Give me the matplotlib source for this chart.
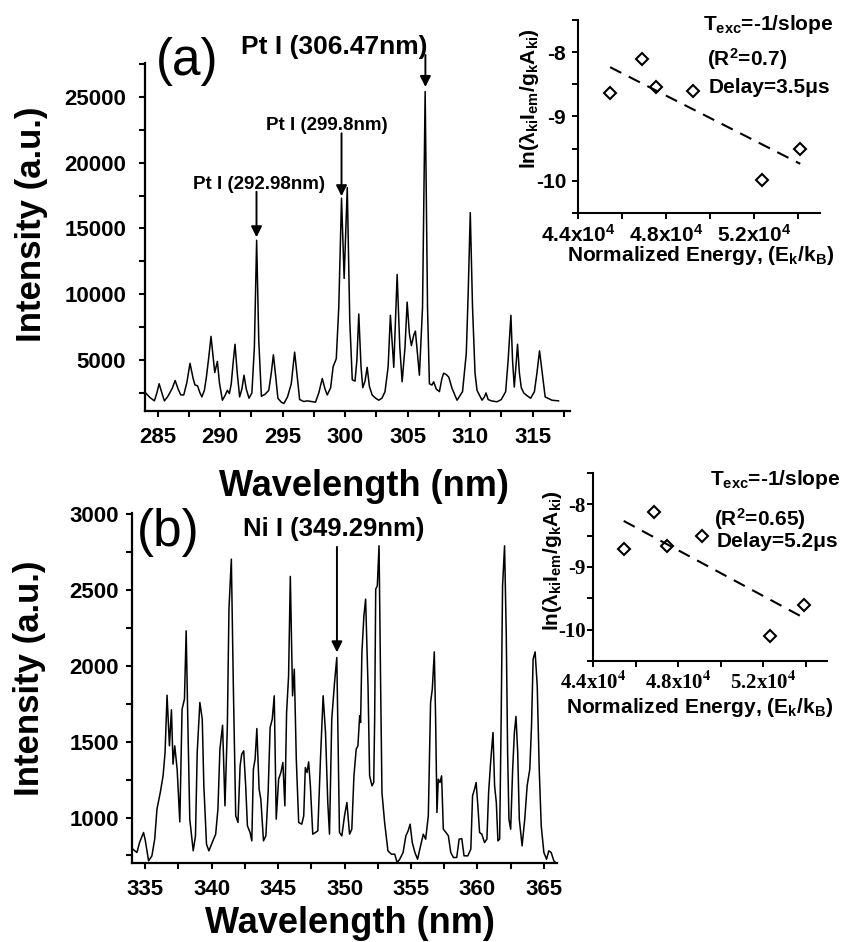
import matplotlib
matplotlib.use("Agg")
import matplotlib.pyplot as plt
import numpy as np
from matplotlib.ticker import MultipleLocator

plt.rcParams["font.family"] = ["Liberation Sans", "DejaVu Sans"]
plt.rcParams["font.weight"] = "bold"
plt.rcParams["axes.labelweight"] = "bold"
plt.rcParams["axes.unicode_minus"] = False
plt.rcParams["mathtext.fontset"] = "custom"
plt.rcParams["mathtext.rm"] = "Liberation Sans:bold"
plt.rcParams["mathtext.it"] = "Liberation Sans:bold"
plt.rcParams["mathtext.bf"] = "Liberation Sans:bold"

# spectrum (a), Pt lines
wl_a = [284.05, 284.4, 284.75, 284.95, 285.13, 285.35, 285.55, 285.8, 285.95, 286.2,
        286.41, 286.65, 286.86, 287.1, 287.35, 287.6, 287.85, 288.0, 288.2, 288.4,
        288.55, 288.75, 288.91, 289.1, 289.28, 289.45, 289.58, 289.79, 289.95, 290.19,
        290.4, 290.59, 290.75, 290.9, 291.05, 291.2, 291.38, 291.57, 291.75, 291.92,
        292.1, 292.32, 292.55, 292.75, 292.93, 293.1, 293.31, 293.6, 293.9, 294.1,
        294.27, 294.45, 294.63, 294.9, 295.11, 295.4, 295.7, 295.97, 296.2, 296.37,
        296.7, 296.98, 297.3, 297.64, 297.9, 298.18, 298.4, 298.58, 298.85, 299.05,
        299.3, 299.5, 299.72, 299.93, 300.18, 300.38, 300.58, 300.8, 300.95, 301.1,
        301.28, 301.42, 301.6, 301.77, 301.95, 302.17, 302.45, 302.7, 302.95, 303.2,
        303.45, 303.63, 303.9, 304.17, 304.38, 304.57, 304.8, 304.97, 305.15, 305.31,
        305.5, 305.63, 305.8, 305.95, 306.2, 306.41, 306.6, 306.75, 306.95, 307.09,
        307.3, 307.55, 307.75, 307.89, 308.1, 308.3, 308.56, 308.96, 309.4, 309.7,
        309.85, 310.02, 310.2, 310.4, 310.56, 310.96, 311.15, 311.28, 311.45, 311.7,
        312.16, 312.5, 312.85, 313.05, 313.27, 313.4, 313.54, 313.67, 313.8, 313.95,
        314.1, 314.3, 314.55, 314.85, 315.15, 315.35, 315.56, 315.75, 316.01, 316.55,
        317.08]
int_a = [2500, 2150, 1900, 2500, 3200, 2500, 1900, 2200, 2450, 2900,
         3450, 2800, 2350, 2350, 3300, 4750, 3600, 3100, 3050, 2500,
         2200, 2700, 3700, 5200, 6800, 5200, 4050, 4900, 3300, 1950,
         2300, 2700, 2450, 3200, 4800, 6200, 4000, 2200, 2800, 3850,
         2800, 2100, 2500, 6000, 14100, 6500, 2250, 2400, 2700, 4000,
         5400, 3800, 2100, 1800, 1700, 2200, 3200, 5600, 3500, 2000,
         1850, 1900, 1850, 1800, 2500, 3600, 2800, 2350, 2900, 4500,
         5100, 9000, 17300, 11200, 18100, 8000, 3500, 3400, 5000, 8500,
         4500, 2900, 3400, 4450, 3000, 2350, 2100, 1950, 2100, 2600,
         4500, 8400, 4450, 11500, 6000, 3350, 6000, 9400, 7000, 6100,
         6900, 7200, 5400, 3850, 9000, 25400, 9000, 3200, 3100, 3350,
         2800, 2600, 3600, 4000, 3900, 3700, 2850, 1950, 2600, 5500,
         10000, 16200, 9000, 4000, 2700, 1950, 2200, 2500, 2000, 1900,
         1830, 2000, 2600, 5000, 8400, 5000, 2950, 4500, 6200, 4000,
         2900, 2500, 2300, 2100, 2600, 4000, 5700, 4200, 2200, 1950,
         1900]

# spectrum (b), Ni lines
wl_b = [334.07, 334.37, 334.57, 334.87, 335.0, 335.25, 335.5, 335.71, 335.88, 336.13,
        336.34, 336.49, 336.64, 336.82, 336.97, 337.09, 337.22, 337.4, 337.6, 337.77,
        337.95, 338.08, 338.2, 338.35, 338.61, 338.78, 338.91, 339.11, 339.29, 339.41,
        339.61, 339.79, 340.04, 340.3, 340.47, 340.62, 340.82, 341.0, 341.18, 341.3,
        341.48, 341.63, 341.81, 341.98, 342.14, 342.26, 342.41, 342.56, 342.69, 342.89,
        343.02, 343.14, 343.27, 343.4, 343.57, 343.7, 343.9, 344.08, 344.25, 344.4,
        344.56, 344.71, 344.86, 345.04, 345.21, 345.36, 345.51, 345.64, 345.79, 345.92,
        346.09, 346.22, 346.37, 346.55, 346.78, 346.93, 347.05, 347.18, 347.3, 347.43,
        347.61, 347.81, 347.99, 348.19, 348.39, 348.57, 348.74, 348.87, 349.04, 349.25,
        349.42, 349.62, 349.8, 350.0, 350.18, 350.38, 350.55, 350.71, 350.88, 351.01,
        351.14, 351.21, 351.31, 351.46, 351.59, 351.77, 351.89, 352.07, 352.2, 352.27,
        352.35, 352.47, 352.6, 352.72, 352.82, 353.02, 353.27, 353.53, 353.78, 353.96,
        354.16, 354.41, 354.62, 354.79, 354.94, 355.1, 355.3, 355.5, 355.73, 355.93,
        356.11, 356.31, 356.48, 356.61, 356.76, 356.86, 356.96, 357.06, 357.19, 357.31,
        357.44, 357.64, 357.82, 358.0, 358.2, 358.45, 358.63, 358.83, 359.0, 359.28,
        359.51, 359.64, 359.79, 359.91, 360.04, 360.17, 360.34, 360.54, 360.72, 360.85,
        361.0, 361.18, 361.3, 361.43, 361.55, 361.68, 361.8, 361.9, 362.05, 362.18,
        362.28, 362.38, 362.51, 362.66, 362.79, 362.91, 363.04, 363.16, 363.37, 363.57,
        363.75, 363.95, 364.08, 364.2, 364.35, 364.51, 364.66, 364.81, 365.01, 365.21,
        365.38, 365.56, 365.76, 365.89]
int_b = [791, 769, 835, 901, 850, 714, 747, 857, 1055, 1165,
         1275, 1429, 1807, 1473, 1711, 1352, 1473, 1319, 971, 1715,
         1781, 2232, 1649, 989, 780, 879, 1429, 1759, 1649, 1209,
         824, 780, 835, 890, 1055, 1451, 1609, 1077, 1605, 2375,
         2705, 1869, 1011, 967, 1341, 1418, 1440, 1209, 945, 901,
         846, 1319, 1385, 1587, 1187, 1121, 846, 879, 1165, 1594,
         1649, 1803, 989, 1253, 1297, 1363, 1077, 1693, 1935, 2591,
         1803, 1979, 1385, 967, 956, 1011, 1330, 1297, 1367, 1209,
         890, 901, 912, 1385, 1803, 1561, 1099, 890, 1649, 1891,
         2056, 901, 879, 1011, 1099, 890, 923, 1275, 1451, 1473,
         1671, 1627, 2089, 2331, 2441, 1869, 1275, 1209, 1231, 1649,
         2507, 2529, 2793, 1869, 1165, 967, 780, 758, 758, 703,
         725, 769, 879, 912, 956, 835, 769, 725, 813, 890,
         857, 1011, 1759, 1847, 2093, 1649, 1033, 1253, 1231, 1275,
         923, 901, 879, 769, 736, 736, 857, 861, 747, 747,
         791, 1143, 1187, 1231, 1077, 901, 890, 835, 857, 1165,
         1363, 1561, 1209, 1099, 846, 857, 1693, 2529, 2793, 2199,
         1429, 989, 923, 1319, 1561, 1667, 1429, 989, 813, 989,
         1209, 1319, 1605, 2045, 2093, 1869, 1319, 945, 769, 725,
         780, 769, 714, 703]

# Boltzmann plot points (insets)
energy_a = [45463, 46912, 47535, 49226, 52350, 54103]
lnval_a = [-8.64, -8.11, -8.54, -8.60, -9.98, -9.50]
energy_b = [45442, 46884, 47456, 49130, 52312, 53940]
lnval_b = [-8.72, -8.12, -8.66, -8.50, -10.10, -9.60]

energy_ticks = [44000, 48000, 52000]
energy_ticklabels = ["4.4x10$^4$", "4.8x10$^4$", "5.2x10$^4$"]
ln_ticks = [-8, -9, -10]


def style_spectrum(ax, xlim, ylim, ystep, ypad):
    ax.set_xlim(*xlim)
    ax.set_ylim(*ylim)
    for side in ("top", "right"):
        ax.spines[side].set_visible(False)
    for side in ("left", "bottom"):
        ax.spines[side].set_linewidth(1.6)
    ax.xaxis.set_major_locator(MultipleLocator(5))
    ax.xaxis.set_minor_locator(MultipleLocator(2.5))
    ax.yaxis.set_major_locator(MultipleLocator(ystep))
    ax.yaxis.set_minor_locator(MultipleLocator(ystep / 2))
    ax.tick_params(which="both", direction="out", width=1.5, length=4.5, labelsize=16)
    ax.tick_params(axis="y", pad=ypad)
    ax.tick_params(axis="x", pad=7)


def style_inset(ax, ypad):
    ax.set_xlim(44000, 55000)
    ax.set_ylim(-10.5, -7.5)
    for side in ("top", "right"):
        ax.spines[side].set_visible(False)
    for side in ("left", "bottom"):
        ax.spines[side].set_linewidth(1.5)
    ax.set_xticks(energy_ticks, energy_ticklabels)
    ax.xaxis.set_minor_locator(MultipleLocator(2000))
    ax.set_yticks(ln_ticks, [str(t) for t in ln_ticks])
    ax.yaxis.set_minor_locator(MultipleLocator(0.5))
    ax.tick_params(which="both", direction="out", width=1.4, length=4.5, labelsize=15)
    ax.tick_params(axis="y", pad=ypad)
    ax.tick_params(axis="x", pad=3)


def boltzmann(ax, energy, lnval):
    ax.plot(energy, lnval, linestyle="none", marker="D", ms=6, mfc="white",
            mec="black", mew=1.5)
    slope, icpt = np.polyfit(energy, lnval, 1)
    xs = np.array([min(energy), max(energy)])
    ax.plot(xs, slope * xs + icpt, color="black", lw=1.5, linestyle=(0, (6, 4)))
    ax.set_ylabel(r"ln($\lambda_{ki}$I$_{em}$/g$_{k}$A$_{ki}$)", fontsize=15, va="center")
    ax.set_xlabel(r"Normalized Energy, (E$_{k}$/k$_{B}$)", fontsize=15, va="center")


def arrow(ax, x, y_from, y_to):
    ax.annotate("", xy=(x, y_to), xytext=(x, y_from), annotation_clip=False,
                arrowprops=dict(arrowstyle="-|>", color="black", lw=1.4,
                                mutation_scale=16, shrinkA=0, shrinkB=0))


fig = plt.figure(figsize=(8.45, 9.42), dpi=100)

# ---- panel (a)
ax_a = fig.add_axes([0.1716, 0.5637, 0.503, 0.3694])
ax_a.plot(wl_a, int_a, color="black", lw=1.1)
style_spectrum(ax_a, (284.0, 318.0), (1130, 27570), 5000, 9)
ax_a.set_xlabel("Wavelength (nm)", fontsize=26, va="center")
ax_a.xaxis.set_label_coords(0.515, -0.218)
ax_a.set_ylabel("Intensity (a.u.)", fontsize=25, va="center")
ax_a.yaxis.set_label_coords(-0.268, 0.536)
ax_a.text(287.4, 27650, "(a)", fontsize=37, fontweight="normal", ha="center", va="center")
ax_a.text(299.12, 28790, "Pt I (306.47nm)", fontsize=19, ha="center", va="center")
ax_a.text(298.52, 22820, "Pt I (299.8nm)", fontsize=13.5, ha="center", va="center")
ax_a.text(293.09, 18340, "Pt I (292.98nm)", fontsize=13.5, ha="center", va="center")
arrow(ax_a, 306.43, 28180, 25750)
arrow(ax_a, 299.72, 22230, 17450)
arrow(ax_a, 292.92, 17790, 14330)

ins_a = fig.add_axes([0.684, 0.7739, 0.2864, 0.2049])
boltzmann(ins_a, energy_a, lnval_a)
style_inset(ins_a, 4)
ins_a.yaxis.set_label_coords(-0.202, 0.591)
ins_a.xaxis.set_label_coords(0.507, -0.218)
ins_a.text(0.785, 0.974, r"T$_{exc}$=-1/slope", transform=ins_a.transAxes, fontsize=15,
           ha="center", va="center")
ins_a.text(0.698, 0.798, "(R$^{2}$=0.7)", transform=ins_a.transAxes, fontsize=15,
           ha="center", va="center")
ins_a.text(0.793, 0.648, "Delay=3.5\u03bcs", transform=ins_a.transAxes, fontsize=15,
           ha="center", va="center")

# ---- panel (b)
ax_b = fig.add_axes([0.1562, 0.0839, 0.503, 0.3716])
ax_b.plot(wl_b, int_b, color="black", lw=1.1)
style_spectrum(ax_b, (334.0, 366.0), (700, 3010), 500, 5)
ax_b.set_xlabel("Wavelength (nm)", fontsize=26, va="center")
ax_b.xaxis.set_label_coords(0.513, -0.172)
ax_b.set_ylabel("Intensity (a.u.)", fontsize=25, va="center")
ax_b.yaxis.set_label_coords(-0.242, 0.527)
ax_b.text(336.74, 2883, "(b)", fontsize=37, fontweight="normal", ha="center", va="center")
ax_b.text(349.15, 2903, "Ni I (349.29nm)", fontsize=18.5, ha="center", va="center")
arrow(ax_b, 349.43, 2786, 2090)

ins_b = fig.add_axes([0.7018, 0.2983, 0.2769, 0.1996])
boltzmann(ins_b, energy_b, lnval_b)
style_inset(ins_b, 1)
ins_b.set_xticks(energy_ticks, ["4.4x10$^{\\mathbf{4}}$", "4.8x10$^{\\mathbf{4}}$",
                                "5.2x10$^{\\mathbf{4}}$"])
for lab in ins_b.get_xticklabels() + ins_b.get_yticklabels():
    lab.set_fontfamily("Liberation Serif")
    lab.set_math_fontfamily("stix")
ins_b.yaxis.set_label_coords(-0.175, 0.537)
ins_b.xaxis.set_label_coords(0.457, -0.245)
ins_b.text(0.778, 0.963, r"T$_{exc}$=-1/slope", transform=ins_b.transAxes, fontsize=15,
           ha="center", va="center")
ins_b.text(0.714, 0.755, "(R$^{2}$=0.65)", transform=ins_b.transAxes, fontsize=15,
           ha="center", va="center")
ins_b.text(0.788, 0.638, "Delay=5.2\u03bcs", transform=ins_b.transAxes, fontsize=15,
           ha="center", va="center")

fig.savefig("out.png", dpi=100, facecolor="white")
